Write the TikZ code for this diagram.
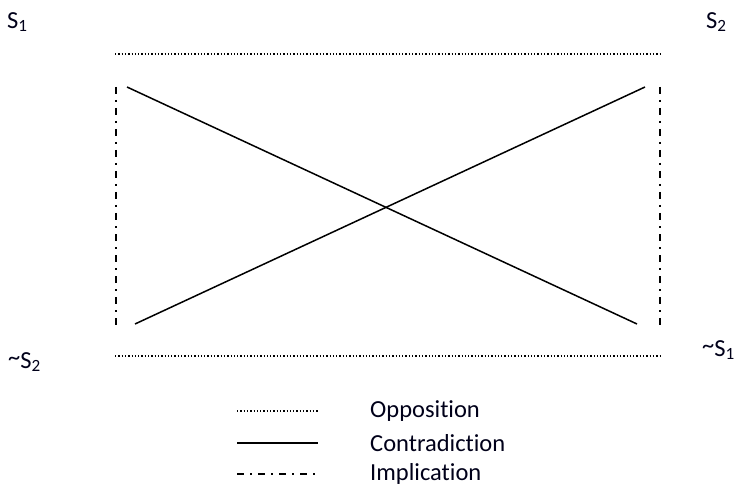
\documentclass[tikz,border=0pt]{standalone}
\usepackage{fontspec}
\setmainfont[RawFeature={-liga;-dlig;-clig}]{Carlito}
\begin{document}
\begin{tikzpicture}[x=1pt,y=-1pt,
  lbl/.style={inner sep=0pt,font=\fontsize{24.5}{28}\selectfont,text=black!90!blue},
  opp/.style={line width=1.3pt,dash pattern=on 1.3pt off 2pt},
  contra/.style={line width=1.5pt},
  impl/.style={line width=1.3pt,dash pattern=on 7pt off 6pt on 2pt off 6pt},
  pt/.style={inner sep=0pt,minimum size=0pt}]
\useasboundingbox (0,0) rectangle (735,486);
% labels
\node[lbl,anchor=west] (s1) at (7,22) {S\textsubscript{1}};
\node[lbl,anchor=west] (s2) at (706,22) {S\textsubscript{2}};
\node[lbl,anchor=west] (ns2) at (8,362) {\raisebox{0.2ex}{\char`~}S\textsubscript{2}};
\node[lbl,anchor=west] (ns1) at (702,350) {\raisebox{0.2ex}{\char`~}S\textsubscript{1}};
% anchors
\coordinate (tl) at (115,54);
\coordinate (tr) at (660,54);
\coordinate (bl) at (115,356);
\coordinate (br) at (660,356);
\coordinate (lt) at (116,87);
\coordinate (lb) at (116,325);
\coordinate (rt) at (660,87);
\coordinate (rb) at (660,325);
\coordinate (a1) at (127,87);
\coordinate (a2) at (637,324);
\coordinate (b1) at (135,324);
\coordinate (b2) at (645,87);
\draw[opp] (tl) -- (tr);
\draw[opp] (bl) -- (br);
\draw[impl] (lt) -- (lb);
\draw[impl] (rt) -- (rb);
\draw[contra] (a1) -- (a2);
\draw[contra] (b1) -- (b2);
% legend
\coordinate (l1a) at (237,411); \coordinate (l1b) at (318,411);
\coordinate (l2a) at (237,443); \coordinate (l2b) at (318,443);
\coordinate (l3a) at (237,474); \coordinate (l3b) at (318,474);
\draw[opp] (l1a) -- (l1b);
\draw[contra] (l2a) -- (l2b);
\draw[impl] (l3a) -- (l3b);
\node[lbl,anchor=west] (t1) at (370,411) {Opposition};
\node[lbl,anchor=west] (t2) at (370,443) {Contradiction};
\node[lbl,anchor=west] (t3) at (370,474) {Implication};
\end{tikzpicture}
\end{document}
